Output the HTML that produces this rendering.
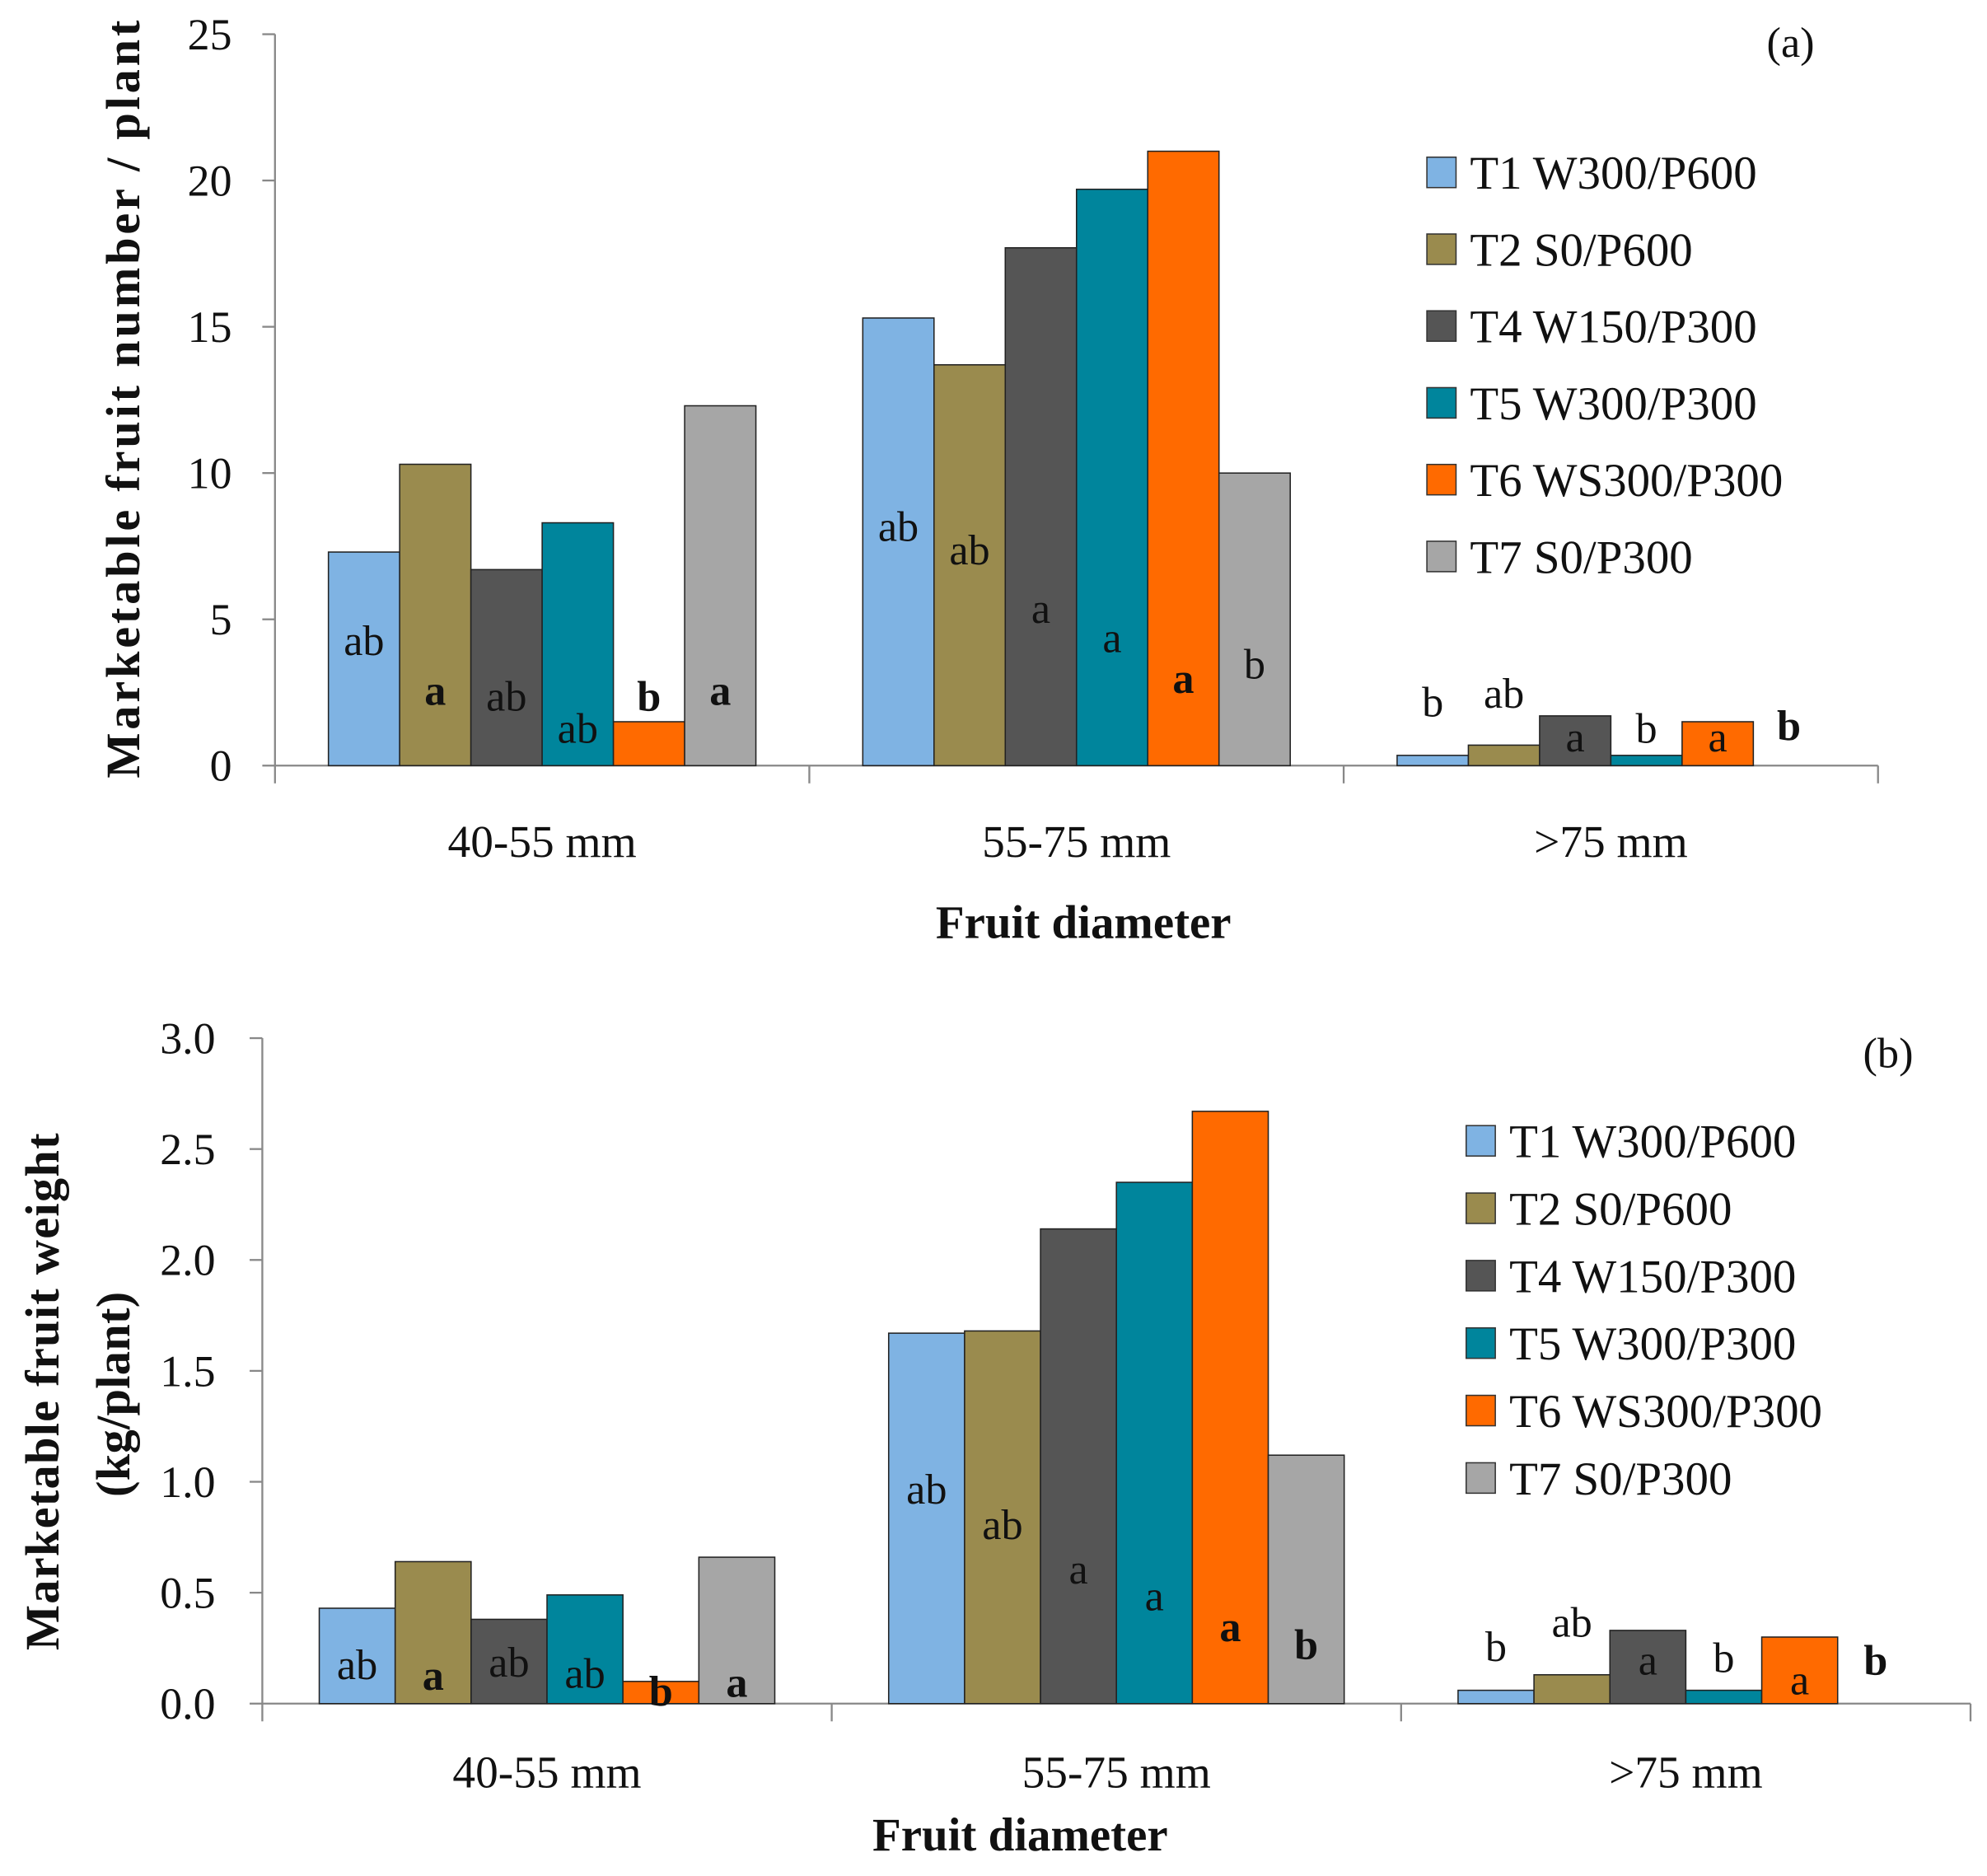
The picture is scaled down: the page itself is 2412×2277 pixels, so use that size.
<!DOCTYPE html>
<html><head><meta charset="utf-8"><style>
html,body{margin:0;padding:0;background:#fff}
svg{display:block}
text{font-family:"Liberation Serif",serif;fill:#111}
</style></head><body>
<svg id="chart" width="2412" height="2277" viewBox="0 0 1568 1480" preserveAspectRatio="none" xmlns="http://www.w3.org/2000/svg"></svg>
<script>
const categories = ["40-55 mm","55-75 mm",">75 mm"];
const seriesNames = ["T1 W300/P600","T2 S0/P600","T4 W150/P300","T5 W300/P300","T6 WS300/P300","T7 S0/P300"];
const colors = ["#7fb3e3","#9a8b4e","#555555","#00859c","#ff6a00","#a6a6a6"];
// panel a values [series][category]
const aT1 = [7.3,15.3,0.35];
const aT2 = [10.3,13.7,0.7];
const aT4 = [6.7,17.7,1.7];
const aT5 = [8.3,19.7,0.35];
const aT6 = [1.5,21.0,1.5];
const aT7 = [12.3,10.0,0];
const aTicks = ["0","5","10","15","20","25"];
const aLetters = [["ab","a","ab","ab","b","a"],["ab","ab","a","a","a","b"],["b","ab","a","b","a","b"]];
const aLetterVals = [[4.3,2.6,2.4,1.3,2.4,2.6],[8.2,7.4,5.4,4.4,3.0,3.5],[2.2,2.5,1.0,1.3,1.0,1.4]];
const aBold = [[0,1,0,0,1,1],[0,0,0,0,1,0],[0,0,0,0,0,1]];
// panel b values
const bT1 = [0.43,1.67,0.06];
const bT2 = [0.64,1.68,0.13];
const bT4 = [0.38,2.14,0.33];
const bT5 = [0.49,2.35,0.06];
const bT6 = [0.10,2.67,0.30];
const bT7 = [0.66,1.12,0];
const bTicks = ["0.0","0.5","1.0","1.5","2.0","2.5","3.0"];
const bLetters = [["ab","a","ab","ab","b","a"],["ab","ab","a","a","a","b"],["b","ab","a","b","a","b"]];
const bLetterVals = [[0.18,0.13,0.19,0.14,0.06,0.10],[0.97,0.81,0.61,0.49,0.35,0.27],[0.26,0.37,0.20,0.21,0.11,0.20]];
const bBold = [[0,1,0,0,1,1],[0,0,0,0,1,1],[0,0,0,0,0,1]];

const NS="http://www.w3.org/2000/svg";
const svg=document.getElementById('chart');
function mk(tag,attrs,parent){const e=document.createElementNS(NS,tag);for(const k in attrs)e.setAttribute(k,attrs[k]);(parent||svg).appendChild(e);return e;}

function panel(p){
  const g=mk('g',{});
  
  
  const catW=(p.x1-p.x0)/categories.length;
  const yS=v=>p.y0-(v/p.max)*(p.y0-p.yTop);
  const bw=catW*0.8/seriesNames.length;
  // axes
  const ya=mk('line',{x1:p.x0,y1:p.y0,x2:p.x0,y2:p.yTop,stroke:'#888','stroke-width':1.5},g);
  
  const xa=mk('line',{x1:p.x0,y1:p.y0,x2:p.x1,y2:p.y0,stroke:'#888','stroke-width':1.5},g);
  
  p.ticks.forEach((t,i)=>{
    const v=i*p.step, y=yS(v);
    mk('line',{x1:p.x0-10,y1:y,x2:p.x0,y2:y,stroke:'#888','stroke-width':1.5},g);
    const tx=mk('text',{x:p.tickX,y:y+12,'text-anchor':'end','font-size':35},g);
    tx.textContent=t;
    
    
  });
  for(let c=0;c<=categories.length;c++){
    const x=p.x0+c*catW;
    mk('line',{x1:x,y1:p.y0,x2:x,y2:p.y0+14,stroke:'#888','stroke-width':1.5},g);
  }
  categories.forEach((cat,c)=>{
    const cx=p.x0+(c+0.5)*catW;
    const t=mk('text',{x:cx,y:p.catY,'text-anchor':'middle','font-size':36},g);
    t.textContent=cat;
    
    
    p.series.forEach((arr,s)=>{
      const v=arr[c]; const bx=p.x0+c*catW+catW*0.1+s*bw;
      if(v>0){
        const r=mk('rect',{x:bx,y:yS(v),width:bw,height:p.y0-yS(v),fill:colors[s],stroke:'#222','stroke-width':1},g);
        
        
      }
      const lt=mk('text',{x:bx+bw/2,y:yS(p.lv[c][s])+12,'text-anchor':'middle','font-size':34,'font-weight':p.bold[c][s]?'bold':'normal'},g);
      lt.textContent=p.letters[c][s];
      
      
    });
  });
  const xt=mk('text',{x:p.xtX,y:p.xtY,'text-anchor':'middle','font-size':37,'font-weight':'bold'},g);
  xt.textContent='Fruit diameter';
  
  const pl=mk('text',{x:p.plX,y:p.plY,'text-anchor':'middle','font-size':34},g);
  pl.textContent=p.label;
  
  seriesNames.forEach((n,s)=>{
    const y=p.legY+s*p.legStep;
    const lg=mk('g',{},g);
    
    
    mk('rect',{x:p.legX,y:y-12,width:23,height:24,fill:colors[s],stroke:'#333','stroke-width':1},lg);
    const lt=mk('text',{x:p.legX+34,y:y+13,'font-size':37},lg);
    lt.textContent=n;
  });
  return {g,yS};
}

panel({id:'a',x0:217,x1:1482,y0:604,yTop:27,max:25,step:5,ticks:aTicks,tickX:183,
  series:[aT1,aT2,aT4,aT5,aT6,aT7],letters:aLetters,lv:aLetterVals,bold:aBold,catY:676,
  xtX:855,xtY:740,plX:1413,plY:45,label:'(a)',legX:1126,legY:136,legStep:60.6});
panel({id:'b',x0:207,x1:1555,y0:1344,yTop:819,max:3,step:0.5,ticks:bTicks,tickX:170,
  series:[bT1,bT2,bT4,bT5,bT6,bT7],letters:bLetters,lv:bLetterVals,bold:bBold,catY:1410,
  xtX:805,xtY:1460,plX:1490,plY:842,label:'(b)',legX:1157,legY:900,legStep:53.2});

const ta=mk('text',{x:0,y:0,'text-anchor':'middle','font-size':38,'font-weight':'bold',transform:'translate(110,315) rotate(-90)',textLength:598,lengthAdjust:'spacing'});
ta.textContent='Marketable fruit number / plant';

const tb1=mk('text',{x:0,y:0,'text-anchor':'middle','font-size':38,'font-weight':'bold',transform:'translate(46,1098) rotate(-90)',textLength:408,lengthAdjust:'spacing'});
tb1.textContent='Marketable fruit weight';

const tb2=mk('text',{x:0,y:0,'text-anchor':'middle','font-size':38,'font-weight':'bold',transform:'translate(102,1100) rotate(-90)',textLength:162,lengthAdjust:'spacing'});
tb2.textContent='(kg/plant)';

</script>
</body></html>
